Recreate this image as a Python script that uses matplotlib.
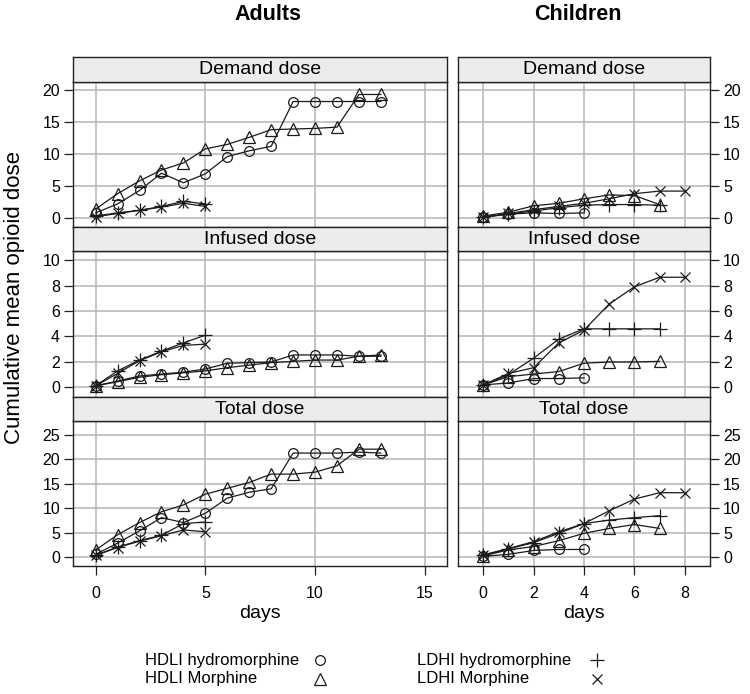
import numpy as np
import matplotlib

matplotlib.use("Agg")
import matplotlib.pyplot as plt
from matplotlib.lines import Line2D

plt.rcParams["font.family"] = ["Liberation Sans", "DejaVu Sans"]

# ── Dados ──────────────────────────────────────────────────────────
DAYS_ADULT_HDLI = list(range(14))
DAYS_ADULT_LDHI = list(range(6))
DAYS_CHILD_HDLI_HM = list(range(5))
DAYS_CHILD_HDLI_M = list(range(8))
DAYS_CHILD_LDHI_HM = list(range(8))
DAYS_CHILD_LDHI_M = list(range(9))

# adultos - demand dose
a_dem_hdli_hm = [0.8, 2.2, 4.3, 7.0, 5.5, 6.9, 9.6, 10.5, 11.2, 18.2, 18.2, 18.2, 18.2, 18.2]
a_dem_hdli_m = [1.4, 3.8, 5.8, 7.5, 8.6, 10.8, 11.5, 12.6, 13.8, 13.9, 14.0, 14.2, 19.3, 19.3]
a_dem_ldhi_hm = [0.3, 0.8, 1.2, 1.8, 2.6, 2.2]
a_dem_ldhi_m = [0.2, 0.7, 1.2, 1.7, 2.3, 1.8]

# adultos - infused dose
a_inf_hdli_hm = [0.13, 0.5, 0.9, 1.05, 1.2, 1.45, 1.9, 1.95, 2.0, 2.55, 2.55, 2.55, 2.45, 2.45]
a_inf_hdli_m = [0.13, 0.45, 0.8, 1.0, 1.15, 1.3, 1.55, 1.75, 1.95, 2.05, 2.15, 2.15, 2.45, 2.55]
a_inf_ldhi_hm = [0.13, 1.3, 2.15, 2.85, 3.5, 4.1]
a_inf_ldhi_m = [0.13, 1.1, 2.1, 2.8, 3.3, 3.4]

# adultos - total dose
a_tot_hdli_hm = [0.6, 2.9, 5.4, 8.1, 7.1, 9.0, 12.1, 13.3, 14.0, 21.3, 21.3, 21.3, 21.5, 21.3]
a_tot_hdli_m = [1.5, 4.6, 7.1, 9.3, 10.7, 12.9, 14.1, 15.3, 17.0, 17.0, 17.4, 18.7, 22.1, 22.1]
a_tot_ldhi_hm = [0.4, 2.1, 3.4, 4.5, 6.9, 7.2]
a_tot_ldhi_m = [0.4, 2.0, 3.3, 4.4, 5.6, 5.2]

# crianças - demand dose
c_dem_hdli_hm = [0.1, 0.6, 0.8, 0.7, 0.8]
c_dem_hdli_m = [0.3, 0.9, 1.9, 2.3, 3.0, 3.6, 3.5, 2.1]
c_dem_ldhi_hm = [0.2, 0.6, 1.1, 1.6, 2.0, 2.1, 2.1, 2.0]
c_dem_ldhi_m = [0.1, 0.7, 1.3, 1.8, 2.3, 3.0, 3.8, 4.2, 4.2]

# crianças - infused dose
c_inf_hdli_hm = [0.2, 0.35, 0.7, 0.7, 0.75]
c_inf_hdli_m = [0.2, 0.85, 1.05, 1.25, 1.9, 2.0, 2.0, 2.05]
c_inf_ldhi_hm = [0.2, 1.0, 2.3, 3.8, 4.6, 4.6, 4.6, 4.6]
c_inf_ldhi_m = [0.2, 1.1, 1.55, 3.5, 4.5, 6.55, 7.9, 8.65, 8.65]

# crianças - total dose
c_tot_hdli_hm = [0.2, 0.6, 1.4, 1.6, 1.6]
c_tot_hdli_m = [0.3, 1.5, 2.2, 3.4, 4.9, 5.9, 6.7, 5.9]
c_tot_ldhi_hm = [0.4, 1.7, 3.0, 4.9, 6.9, 7.6, 8.1, 8.5]
c_tot_ldhi_m = [0.5, 1.8, 3.2, 5.2, 6.9, 9.5, 11.9, 13.2, 13.2]

ROW_TITLES = ["Demand dose", "Infused dose", "Total dose"]
COL_TITLES = ["Adults", "Children"]
SERIES_LABELS = ["HDLI hydromorphine", "HDLI Morphine", "LDHI hydromorphine", "LDHI Morphine"]
Y_TICKS = [[0, 5, 10, 15, 20], [0, 2, 4, 6, 8, 10], [0, 5, 10, 15, 20, 25]]
X_TICKS = [[0, 5, 10, 15], [0, 2, 4, 6, 8]]

# ── Layout (pixels da figura 750x694) ──────────────────────────────
W, H = 750, 694
COLS_PX = [(73.3, 446.7), (458.3, 710.0)]
PANEL_PX = [(82, 227), (250.5, 397), (420.5, 566)]
STRIP_PX = [(57, 82), (227, 250.5), (397, 420.5)]
YLIMS = [(-1.41, 21.25), (-0.75, 10.75), (-1.78, 27.96)]
XLIMS = [(-1.02, 16.0), (-0.99, 9.0)]

MARKERS = [
    dict(marker="o", ms=7, mfc="none"),
    dict(marker="^", ms=8, mfc="none"),
    dict(marker="+", ms=9.5, mfc="none"),
    dict(marker="x", ms=7.5, mfc="none"),
]
GRID_COLOR = "#b5b5b5"
LINE_COLOR = "#1a1a1a"


def box(x0, x1, y0, y1):
    return [x0 / W, 1 - y1 / H, (x1 - x0) / W, (y1 - y0) / H]


def main():
    fig = plt.figure(figsize=(W / 100, H / 100), dpi=100)

    data = {
        (0, 0): [(DAYS_ADULT_HDLI, a_dem_hdli_hm), (DAYS_ADULT_HDLI, a_dem_hdli_m),
                 (DAYS_ADULT_LDHI, a_dem_ldhi_hm), (DAYS_ADULT_LDHI, a_dem_ldhi_m)],
        (1, 0): [(DAYS_ADULT_HDLI, a_inf_hdli_hm), (DAYS_ADULT_HDLI, a_inf_hdli_m),
                 (DAYS_ADULT_LDHI, a_inf_ldhi_hm), (DAYS_ADULT_LDHI, a_inf_ldhi_m)],
        (2, 0): [(DAYS_ADULT_HDLI, a_tot_hdli_hm), (DAYS_ADULT_HDLI, a_tot_hdli_m),
                 (DAYS_ADULT_LDHI, a_tot_ldhi_hm), (DAYS_ADULT_LDHI, a_tot_ldhi_m)],
        (0, 1): [(DAYS_CHILD_HDLI_HM, c_dem_hdli_hm), (DAYS_CHILD_HDLI_M, c_dem_hdli_m),
                 (DAYS_CHILD_LDHI_HM, c_dem_ldhi_hm), (DAYS_CHILD_LDHI_M, c_dem_ldhi_m)],
        (1, 1): [(DAYS_CHILD_HDLI_HM, c_inf_hdli_hm), (DAYS_CHILD_HDLI_M, c_inf_hdli_m),
                 (DAYS_CHILD_LDHI_HM, c_inf_ldhi_hm), (DAYS_CHILD_LDHI_M, c_inf_ldhi_m)],
        (2, 1): [(DAYS_CHILD_HDLI_HM, c_tot_hdli_hm), (DAYS_CHILD_HDLI_M, c_tot_hdli_m),
                 (DAYS_CHILD_LDHI_HM, c_tot_ldhi_hm), (DAYS_CHILD_LDHI_M, c_tot_ldhi_m)],
    }

    for r in range(3):
        for c in range(2):
            x0, x1 = COLS_PX[c]
            py0, py1 = PANEL_PX[r]
            sy0, sy1 = STRIP_PX[r]

            # painel
            ax = fig.add_axes(box(x0, x1, py0, py1))
            ax.set_xlim(*XLIMS[c])
            ax.set_ylim(*YLIMS[r])
            ax.set_xticks(X_TICKS[c])
            ax.set_yticks(Y_TICKS[r])
            ax.grid(True, color=GRID_COLOR, lw=1.1)
            ax.set_axisbelow(True)
            for s in ax.spines.values():
                s.set_color("#222222")
                s.set_linewidth(1.0)

            for (xs, ys), mk in zip(data[(r, c)], MARKERS):
                ax.plot(xs, ys, color=LINE_COLOR, lw=0.9, mec=LINE_COLOR, mew=0.9, **mk)

            ax.tick_params(axis="both", labelsize=11.5, length=6.5, width=0.9,
                           color="#222222", direction="out", pad=3)
            if c == 0:
                ax.tick_params(axis="y", left=True, right=False, labelleft=True, labelright=False)
            else:
                ax.tick_params(axis="y", left=False, right=True, labelleft=False, labelright=True)
            if r == 2:
                ax.tick_params(axis="x", bottom=True, labelbottom=True, pad=8)
                ax.set_xlabel("days", fontsize=14, labelpad=3)
            else:
                ax.tick_params(axis="x", bottom=False, labelbottom=False)

            # strip
            sax = fig.add_axes(box(x0, x1, sy0, sy1))
            sax.set_facecolor("#ececec")
            sax.set_xticks([])
            sax.set_yticks([])
            for s in sax.spines.values():
                s.set_color("#222222")
                s.set_linewidth(1.0)
            sax.text(0.5, 0.48, ROW_TITLES[r], ha="center", va="center",
                     fontsize=14, transform=sax.transAxes)

    # títulos das colunas
    fig.text(268 / W, 1 - 15 / H, COL_TITLES[0], ha="center", va="center",
             fontsize=15.5, fontweight="bold")
    fig.text(578 / W, 1 - 15 / H, COL_TITLES[1], ha="center", va="center",
             fontsize=15.5, fontweight="bold")

    # rótulo y
    fig.text(15 / W, 1 - 298 / H, "Cumulative mean opioid dose", rotation=90,
             ha="center", va="center", fontsize=16)

    # legenda manual (texto à esquerda, símbolo à direita)
    leg_pos = [(145, 320, 660), (145, 320, 679), (417, 597, 660), (417, 597, 679)]
    for label, mk, (tx, mx, y) in zip(SERIES_LABELS, MARKERS, leg_pos):
        fig.text(tx / W, 1 - y / H, label, ha="left", va="center", fontsize=12)
        fig.add_artist(Line2D([mx / W], [1 - y / H], transform=fig.transFigure,
                              color=LINE_COLOR, mec=LINE_COLOR, mew=0.9, lw=0, **mk))

    fig.savefig("out.png", dpi=100)
    plt.close(fig)


if __name__ == "__main__":
    main()
